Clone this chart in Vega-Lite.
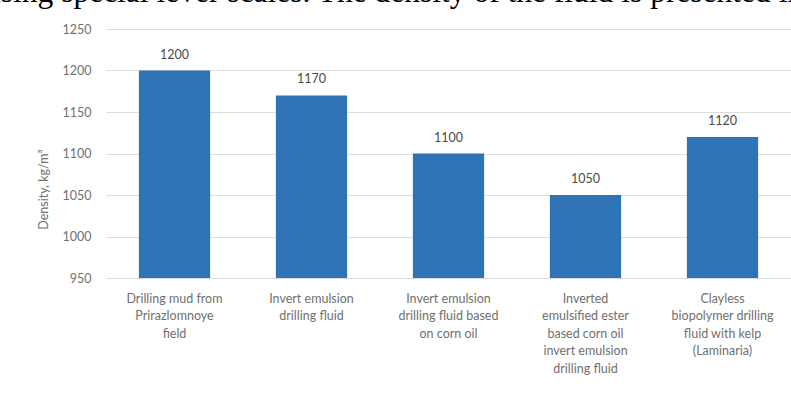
{
  "$schema": "https://vega.github.io/schema/vega-lite/v6.json",
  "width": 685,
  "height": 249,
  "autosize": {"type": "none"},
  "padding": {"left": 106, "top": 29, "right": 0, "bottom": 121},
  "background": "white",
  "title": {
    "text": "using special lever scales. The density of the fluid is presented in",
    "font": "Liberation Serif",
    "fontSize": 31.5,
    "fontWeight": "normal",
    "color": "#000000",
    "anchor": "start",
    "frame": "group",
    "orient": "top",
    "baseline": "alphabetic",
    "offset": -10,
    "limit": 3000,
    "dx": -121
  },
  "data": {
    "values": [
      {"fluid": "Drilling mud from|Prirazlomnoye|field", "density": 1200},
      {"fluid": "Invert emulsion|drilling fluid", "density": 1170},
      {"fluid": "Invert emulsion|drilling fluid based|on corn oil", "density": 1100},
      {"fluid": "Inverted|emulsified ester|based corn oil|invert emulsion|drilling fluid", "density": 1050},
      {"fluid": "Clayless|biopolymer drilling|fluid with kelp|(Laminaria)", "density": 1120}
    ]
  },
  "encoding": {
    "x": {
      "field": "fluid",
      "type": "nominal",
      "sort": null,
      "scale": {"paddingInner": 0.48, "paddingOuter": 0.24},
      "axis": {
        "title": null,
        "labelAngle": 0,
        "labelExpr": "split(datum.value, '|')",
        "labelFont": "Lato",
        "labelFontSize": 12.5,
        "labelColor": "#707070",
        "labelLineHeight": 17.5,
        "labelPadding": 14,
        "ticks": false,
        "domain": true,
        "domainColor": "#d9d9d9",
        "labelLimit": 200
      }
    }
  },
  "layer": [
    {
      "mark": {"type": "bar", "color": "#2e73b5"},
      "encoding": {
        "y": {
          "field": "density",
          "type": "quantitative",
          "scale": {"domain": [950, 1250], "zero": false, "nice": false},
          "axis": {
            "title": "Density, kg/m³",
            "titleFont": "Lato",
            "titleFontSize": 12.5,
            "titleFontWeight": "normal",
            "titleColor": "#707070",
            "titleX": -63,
            "titleY": 160,
            "titleAngle": -90,
            "titleAlign": "center",
            "titleBaseline": "middle",
            "values": [950, 1000, 1050, 1100, 1150, 1200, 1250],
            "format": "d",
            "labelFont": "Lato",
            "labelFontSize": 12.5,
            "labelColor": "#707070",
            "labelPadding": 15,
            "ticks": false,
            "domain": false,
            "grid": true,
            "gridColor": "#dedede"
          }
        },
        "y2": {"datum": 950}
      }
    },
    {
      "mark": {"type": "text", "font": "Lato", "fontSize": 12.5, "color": "#4a4a4a", "baseline": "alphabetic", "dy": -12},
      "encoding": {
        "y": {"field": "density", "type": "quantitative"},
        "text": {"field": "density", "type": "quantitative", "format": "d"}
      }
    }
  ],
  "config": {"view": {"stroke": null}}
}
